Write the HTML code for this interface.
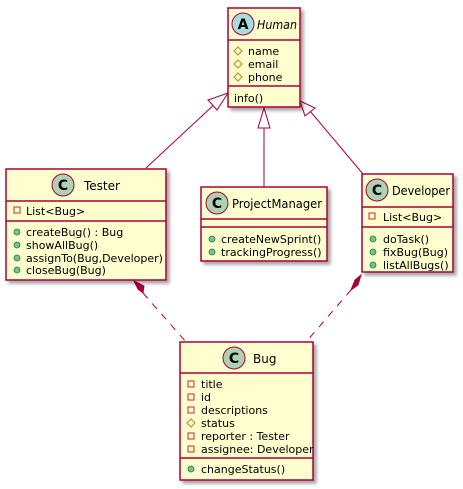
<!DOCTYPE html>
<html><head><style>body{margin:0;background:#fff}svg{display:block}text{font-family:"DejaVu Sans","Liberation Sans",sans-serif;font-size:11px;fill:#000}</style></head><body>
<svg width="463" height="489" viewBox="0 0 463 489" xmlns="http://www.w3.org/2000/svg">
<defs>
<filter id="sh" x="-10%" y="-10%" width="130%" height="130%"><feGaussianBlur in="SourceAlpha" stdDeviation="1.5"/><feOffset dx="3" dy="3"/><feComponentTransfer><feFuncA type="linear" slope="0.35"/></feComponentTransfer><feMerge><feMergeNode/><feMergeNode in="SourceGraphic"/></feMerge></filter>
</defs>
<g stroke="#A80036" fill="none" stroke-width="1">
<line x1="146" y1="168" x2="218" y2="101"/>
<polygon points="228,93 208,100 217,110" fill="#fff"/>
<line x1="264" y1="187" x2="264" y2="128"/>
<polygon points="264,108 258,128 270,128" fill="#fff"/>
<line x1="363" y1="174" x2="310" y2="111"/>
<polygon points="300,101 305,116 315,108" fill="#fff"/>
<line x1="143" y1="293" x2="186" y2="342" stroke-dasharray="7,7"/>
<polygon points="134,281 138,289 143,293 144,286" fill="#A80036"/>
<line x1="351" y1="290" x2="306" y2="342" stroke-dasharray="7,7"/>
<polygon points="361,275 355,280 351,290 358,285" fill="#A80036"/>
</g>
<g stroke="#A80036" stroke-width="1.5" fill="#FEFECE" filter="url(#sh)">
<rect x="228" y="8" width="72" height="99"/>
<rect x="6" y="169" width="160" height="111"/>
<rect x="201" y="187" width="126" height="74"/>
<rect x="362" y="174" width="91" height="98"/>
<rect x="180" y="342" width="133" height="138"/>
</g>
<g stroke="#A80036" stroke-width="1.5">
<line x1="228" y1="40" x2="300" y2="40"/><line x1="228" y1="86" x2="300" y2="86"/>
<line x1="6" y1="201" x2="166" y2="201"/><line x1="6" y1="221" x2="166" y2="221"/>
<line x1="201" y1="219" x2="327" y2="219"/><line x1="201" y1="227" x2="327" y2="227"/>
<line x1="362" y1="207" x2="453" y2="207"/><line x1="362" y1="227" x2="453" y2="227"/>
<line x1="180" y1="373" x2="313" y2="373"/><line x1="180" y1="458" x2="313" y2="458"/>
</g>
<g stroke="#A80036" stroke-width="1">
<circle cx="243" cy="24" r="11" fill="#A9DCDF"/>
<circle cx="63" cy="185" r="11" fill="#ADD1B2"/>
<circle cx="217" cy="203" r="11" fill="#ADD1B2"/>
<circle cx="377" cy="190" r="11" fill="#ADD1B2"/>
<circle cx="234" cy="358" r="11" fill="#ADD1B2"/>
</g>
<g text-anchor="middle">
<text x="243" y="29" style="font-size:14px;font-weight:bold">A</text>
<text x="63" y="190" style="font-size:14px;font-weight:bold">C</text>
<text x="217" y="208" style="font-size:14px;font-weight:bold">C</text>
<text x="377" y="195" style="font-size:14px;font-weight:bold">C</text>
<text x="234" y="363" style="font-size:14px;font-weight:bold">C</text>
</g>
<text x="257" y="29" style="font-size:12px;font-style:italic" textLength="40" lengthAdjust="spacingAndGlyphs">Human</text>
<text x="84" y="190" style="font-size:12px">Tester</text>
<text x="232" y="208" style="font-size:12px" textLength="90" lengthAdjust="spacingAndGlyphs">ProjectManager</text>
<text x="392" y="195" style="font-size:12px" textLength="58" lengthAdjust="spacingAndGlyphs">Developer</text>
<text x="253" y="363" style="font-size:12px">Bug</text>
<g fill="none" stroke="#B38D22" stroke-width="1">
<polygon points="238,47 242,51 238,55 234,51"/><polygon points="238,60 242,64 238,68 234,64"/><polygon points="238,73 242,77 238,81 234,77"/>
<polygon points="191,419 195,423 191,427 187,423"/>
</g>
<text x="248" y="55">name</text><text x="248" y="68">email</text><text x="248" y="81">phone</text>
<text x="234" y="102">info()</text>
<g fill="none" stroke="#C82930" stroke-width="1">
<rect x="14" y="207" width="6" height="6"/>
<rect x="369" y="213" width="6" height="6"/>
<rect x="188" y="381" width="6" height="6"/><rect x="188" y="394" width="6" height="6"/><rect x="188" y="407" width="6" height="6"/><rect x="188" y="433" width="6" height="6"/><rect x="188" y="446" width="6" height="6"/>
</g>
<g fill="#84BE84" stroke="#038048" stroke-width="0.8">
<circle cx="17" cy="232" r="3"/><circle cx="17" cy="245" r="3"/><circle cx="17" cy="258" r="3"/><circle cx="17" cy="270" r="3"/>
<circle cx="212" cy="239" r="3"/><circle cx="212" cy="252" r="3"/>
<circle cx="373" cy="239" r="3"/><circle cx="373" cy="252" r="3"/><circle cx="373" cy="265" r="3"/>
<circle cx="191" cy="469" r="3"/>
</g>
<text x="26" y="215">List&lt;Bug&gt;</text>
<text x="26" y="236">createBug() : Bug</text><text x="26" y="249">showAllBug()</text><text x="26" y="262">assignTo(Bug,Developer)</text><text x="26" y="274">closeBug(Bug)</text>
<text x="221" y="243">createNewSprint()</text><text x="221" y="256">trackingProgress()</text>
<text x="383" y="221">List&lt;Bug&gt;</text>
<text x="383" y="243">doTask()</text><text x="383" y="256">fixBug(Bug)</text><text x="383" y="269">listAllBugs()</text>
<text x="201" y="388">title</text><text x="201" y="401">id</text><text x="201" y="414">descriptions</text><text x="201" y="427">status</text><text x="201" y="440">reporter : Tester</text><text x="201" y="453">assignee: Developer</text>
<text x="201" y="473">changeStatus()</text>
</svg>
</body></html>
